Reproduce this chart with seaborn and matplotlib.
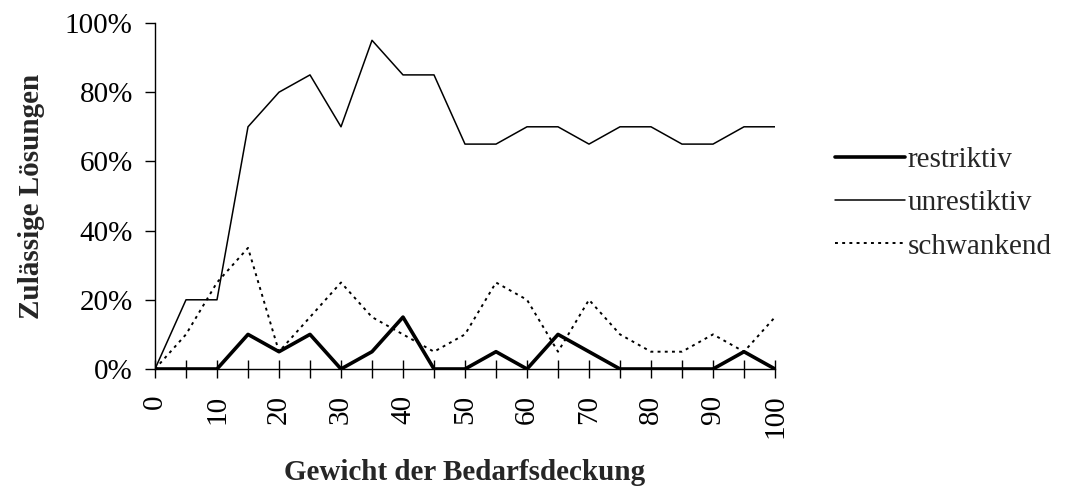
import pandas as pd
import seaborn as sns
import numpy as np
import matplotlib.pyplot as plt

# Gewicht der Bedarfsdeckung (0..100 in 5er Schritten)
gewicht = list(range(0, 101, 5))

restriktiv = [0, 0, 0, 10, 5, 10, 0, 5, 15, 0, 0, 5, 0, 10, 5, 0, 0, 0, 0, 5, 0]
unrestiktiv = [0, 20, 20, 70, 80, 85, 70, 95, 85, 85, 65, 65, 70, 70, 65, 70, 70, 65, 65, 70, 70]
schwankend = [0, 10, 25, 35, 5, 15, 25, 15, 10, 5, 10, 25, 20, 5, 20, 10, 5, 5, 10, 5, 15]

y_ticks = [0, 20, 40, 60, 80, 100]
y_labels = ['0%', '20%', '40%', '60%', '80%', '100%']
x_labels = list(range(0, 101, 10))

df = pd.DataFrame({'Gewicht': gewicht,
                   'restriktiv': restriktiv,
                   'unrestiktiv': unrestiktiv,
                   'schwankend': schwankend})

sns.set_style('ticks')
plt.rcParams['font.family'] = ['Liberation Serif', 'DejaVu Serif']
plt.rcParams['font.size'] = 21

fig = plt.figure(figsize=(10.72, 4.92), dpi=100)
ax = fig.add_axes([155 / 1072, 1 - 369 / 492, 620 / 1072, 346 / 492])

sns.lineplot(data=df, x='Gewicht', y='restriktiv', ax=ax, color='black',
             linewidth=2.6, label='restriktiv')
sns.lineplot(data=df, x='Gewicht', y='unrestiktiv', ax=ax, color='black',
             linewidth=1.1, label='unrestiktiv')
sns.lineplot(data=df, x='Gewicht', y='schwankend', ax=ax, color='black',
             linewidth=1.4, linestyle=(0, (1.5, 2.2)), label='schwankend')

ax.set_xlim(0, 100)
ax.set_ylim(0, 100)
ax.set_xticks(gewicht, minor=False)
ax.set_xticklabels([str(g) if g in x_labels else '' for g in gewicht], rotation=90)
ax.set_yticks(y_ticks)
ax.set_yticklabels(y_labels)

ax.tick_params(axis='x', direction='inout', length=13, width=1, pad=12, colors='black')
ax.tick_params(axis='y', direction='out', length=7, width=1, pad=9, colors='black')

sns.despine(ax=ax)
for s in ['left', 'bottom']:
    ax.spines[s].set_linewidth(1)
    ax.spines[s].set_color('black')

ax.set_xlabel('Gewicht der Bedarfsdeckung', fontweight='bold', labelpad=15)
ax.set_ylabel('Zulässige Lösungen', fontweight='bold', labelpad=14)

ax.legend(loc='center left', bbox_to_anchor=(835 / 1072, 1 - 203 / 492),
          bbox_transform=fig.transFigure, frameon=False, borderpad=0,
          borderaxespad=0, handlelength=2.4, handletextpad=0.1,
          labelspacing=0.58, fontsize=21)

fig.savefig('out.png', dpi=100)
